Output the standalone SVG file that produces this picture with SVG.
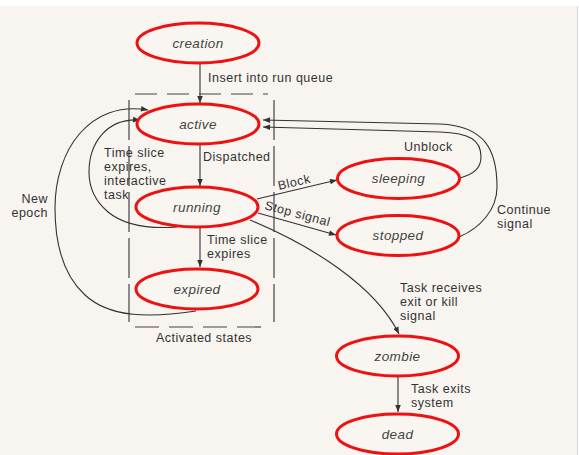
<svg xmlns="http://www.w3.org/2000/svg" width="579" height="455" viewBox="0 0 579 455">
  <defs>
    <style>
      .state ellipse { fill: #f9f6f1; stroke: #ee1111; stroke-width: 3; }
      .state text { font-family: "Liberation Sans", Arial, sans-serif; font-style: italic; font-size: 13.5px; letter-spacing: 0.4px; fill: #444; text-anchor: middle; }
      .edge { fill: none; stroke: #333; stroke-width: 1.1; }
      .lbl { font-family: "Liberation Sans", Arial, sans-serif; font-size: 12.5px; letter-spacing: 0.5px; fill: #333; }
      .box { fill: none; stroke: #444; stroke-width: 1.2; }
    </style>
    <marker id="arrow" viewBox="0 0 10 10" refX="10" refY="5" markerWidth="8" markerHeight="7" markerUnits="userSpaceOnUse" orient="auto">
      <path d="M0,1 L10,5 L0,9 z" fill="#333"/>
    </marker>
  </defs>

  <!-- page -->
  <rect x="0" y="0" width="579" height="455" fill="#ffffff"/>
  <rect x="0" y="6" width="577" height="449" fill="#f8f4ef"/>
  <line x1="577.5" y1="6" x2="577.5" y2="455" stroke="#d8d6d4" stroke-width="1"/>

  <!-- activated states boundary -->
  <g id="activated-states">
    <line class="box" x1="135" y1="94" x2="268" y2="94" stroke-dasharray="22 10"/>
    <line class="box" x1="129" y1="100" x2="129" y2="322" stroke-dasharray="40 6"/>
    <line class="box" x1="274" y1="100" x2="274" y2="322" stroke-dasharray="40 6"/>
    <line class="box" x1="135" y1="327" x2="268" y2="327" stroke-dasharray="24 10"/>
    <text class="lbl" x="204" y="342" text-anchor="middle">Activated states</text>
  </g>

  <!-- transitions -->
  <g id="connectors">
    <line class="edge" x1="200" y1="64" x2="200" y2="103" marker-end="url(#arrow)"/>
    <text class="lbl" x="208" y="82">Insert into run queue</text>

    <line class="edge" x1="200" y1="145" x2="200" y2="186" marker-end="url(#arrow)"/>
    <text class="lbl" x="203" y="161">Dispatched</text>

    <line class="edge" x1="200" y1="228" x2="200" y2="267" marker-end="url(#arrow)"/>
    <text class="lbl" x="207" y="244">Time slice</text>
    <text class="lbl" x="207" y="258">expires</text>

    <path class="edge" d="M177 227 C150 229, 125 226, 108 212 C95 201, 89 188, 89 172 C89 145, 105 118, 140 120" marker-end="url(#arrow)"/>
    <text class="lbl" x="104" y="157">Time slice</text>
    <text class="lbl" x="104" y="171">expires,</text>
    <text class="lbl" x="104" y="185">interactive</text>
    <text class="lbl" x="104" y="199">task</text>

    <path class="edge" d="M196 311 C150 318, 110 318, 85 295 C62 274, 55 240, 55 208 C55 150, 90 100, 148 110" marker-end="url(#arrow)"/>
    <text class="lbl" x="48" y="203" text-anchor="end">New</text>
    <text class="lbl" x="48" y="217" text-anchor="end">epoch</text>

    <line class="edge" x1="257" y1="199" x2="337" y2="180" marker-end="url(#arrow)"/>
    <text class="lbl" x="279" y="190" transform="rotate(-13 279 190)">Block</text>

    <line class="edge" x1="258" y1="213" x2="336" y2="235" marker-end="url(#arrow)"/>
    <text class="lbl" x="264" y="209" transform="rotate(15 264 209)">Stop signal</text>

    <path class="edge" d="M460 178 C474 174, 481 168, 481 157 C481 140, 470 133, 440 132 L263 127" marker-end="url(#arrow)"/>
    <text class="lbl" x="404" y="151">Unblock</text>

    <path class="edge" d="M459 237 C480 228, 497 210, 497 187 C497 150, 485 126, 440 124 L263 120" marker-end="url(#arrow)"/>
    <text class="lbl" x="497" y="214">Continue</text>
    <text class="lbl" x="497" y="228">signal</text>

    <path class="edge" d="M250 220 C310 245, 375 285, 399 334" marker-end="url(#arrow)"/>
    <text class="lbl" x="400" y="292">Task receives</text>
    <text class="lbl" x="400" y="306">exit or kill</text>
    <text class="lbl" x="400" y="320">signal</text>

    <line class="edge" x1="398" y1="377" x2="398" y2="412" marker-end="url(#arrow)"/>
    <text class="lbl" x="411" y="393">Task exits</text>
    <text class="lbl" x="411" y="407">system</text>
  </g>

  <!-- states -->
  <g id="creation" class="state">
    <ellipse cx="198" cy="43" rx="61" ry="20"/>
    <text x="198" y="47.5">creation</text>
  </g>
  <g id="active" class="state">
    <ellipse cx="198" cy="124" rx="61" ry="20"/>
    <text x="198" y="128.5">active</text>
  </g>
  <g id="running" class="state">
    <ellipse cx="197" cy="207" rx="61" ry="20"/>
    <text x="197" y="211.5">running</text>
  </g>
  <g id="expired" class="state">
    <ellipse cx="197" cy="289" rx="61" ry="20"/>
    <text x="197" y="293.5">expired</text>
  </g>
  <g id="sleeping" class="state">
    <ellipse cx="398.5" cy="178.5" rx="61" ry="20"/>
    <text x="398.5" y="183">sleeping</text>
  </g>
  <g id="stopped" class="state">
    <ellipse cx="398" cy="235.5" rx="61" ry="20"/>
    <text x="398" y="240">stopped</text>
  </g>
  <g id="zombie" class="state">
    <ellipse cx="397.5" cy="356" rx="61" ry="20"/>
    <text x="397.5" y="360.5">zombie</text>
  </g>
  <g id="dead" class="state">
    <ellipse cx="397.5" cy="434" rx="61" ry="20"/>
    <text x="397.5" y="438.5">dead</text>
  </g>
</svg>
